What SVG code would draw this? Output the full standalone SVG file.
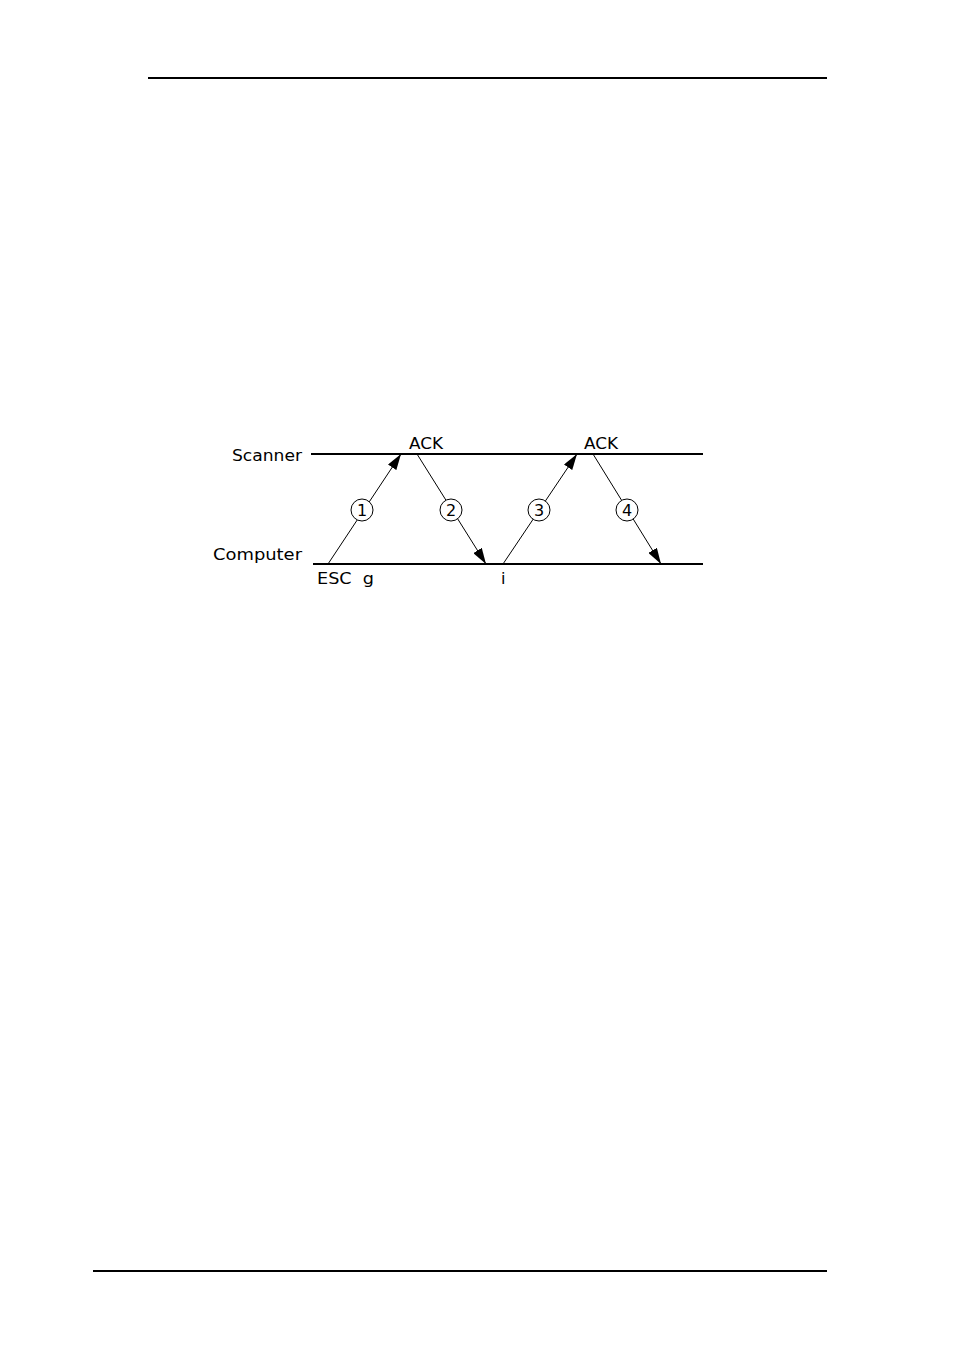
<svg xmlns="http://www.w3.org/2000/svg" width="954" height="1365" viewBox="0 0 954 1365">
<style>
.rule{stroke:#000;stroke-width:2;fill:none}
.lane{stroke:#000;stroke-width:2;fill:none}
.msg{stroke:#000;stroke-width:1;fill:none}
.lbl{font-family:"DejaVu Sans","Liberation Sans",sans-serif;font-size:16px;fill:#000}
.num{font-family:"DejaVu Sans","Liberation Sans",sans-serif;font-size:16px;fill:#000;text-anchor:middle}
.badge{fill:#fff;stroke:#000;stroke-width:1}
</style>
<defs>
<marker id="ah" viewBox="0 0 16 10" refX="16" refY="5" markerWidth="16" markerHeight="10" markerUnits="userSpaceOnUse" orient="auto">
<path d="M0,0 L16,5 L0,10 Z" fill="#000"/>
</marker>
</defs>
<rect width="954" height="1365" fill="#fff"/>
<line class="rule" x1="148" y1="78" x2="827" y2="78"/>
<line class="rule" x1="93" y1="1271" x2="827" y2="1271"/>
<g id="scanner">
<line class="lane" x1="311" y1="454" x2="703" y2="454"/>
<text class="lbl" x="232" y="461" textLength="70" lengthAdjust="spacingAndGlyphs">Scanner</text>
</g>
<g id="computer">
<line class="lane" x1="313" y1="564" x2="703" y2="564"/>
<text class="lbl" x="213" y="560" textLength="89" lengthAdjust="spacingAndGlyphs">Computer</text>
</g>
<g id="labels">
<text class="lbl" x="409" y="449" textLength="34" lengthAdjust="spacingAndGlyphs">ACK</text>
<text class="lbl" x="584" y="449" textLength="34" lengthAdjust="spacingAndGlyphs">ACK</text>
<text class="lbl" x="317" y="584" xml:space="preserve" textLength="57" lengthAdjust="spacingAndGlyphs">ESC  g</text>
<text class="lbl" x="501" y="584">i</text>
</g>
<g id="connectors">
<line class="msg" x1="328" y1="564" x2="401" y2="454" marker-end="url(#ah)"/>
<line class="msg" x1="417" y1="454" x2="486" y2="564" marker-end="url(#ah)"/>
<line class="msg" x1="503" y1="564" x2="577" y2="454" marker-end="url(#ah)"/>
<line class="msg" x1="593" y1="454" x2="661" y2="564" marker-end="url(#ah)"/>
</g>
<g id="step1"><circle class="badge" cx="362" cy="510" r="11"/><text class="num" x="362" y="516">1</text></g>
<g id="step2"><circle class="badge" cx="451" cy="510" r="11"/><text class="num" x="451" y="516">2</text></g>
<g id="step3"><circle class="badge" cx="539" cy="510" r="11"/><text class="num" x="539" y="516">3</text></g>
<g id="step4"><circle class="badge" cx="627" cy="510" r="11"/><text class="num" x="627" y="516">4</text></g>
</svg>
